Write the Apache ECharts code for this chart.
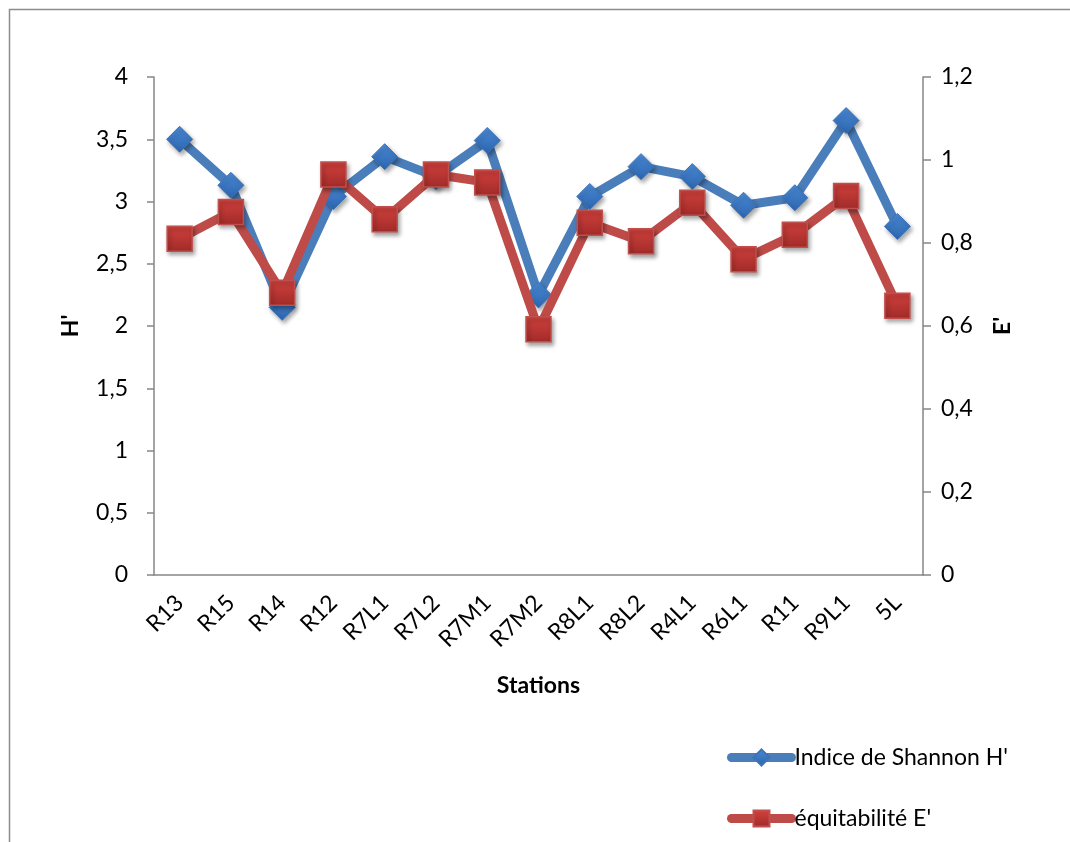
<!DOCTYPE html>
<html>
<head>
<meta charset="utf-8">
<script src="https://cdn.jsdelivr.net/npm/echarts@6/dist/echarts.min.js"></script>
<style>
html,body{margin:0;padding:0;background:#fff;}
#c{width:1070px;height:842px;}
</style>
</head>
<body>
<div id="c"></div>
<script>
var stations = ['R13','R15','R14','R12','R7L1','R7L2','R7M1','R7M2','R8L1','R8L2','R4L1','R6L1','R11','R9L1','5L'];
var shannon = [3.50, 3.13, 2.15, 3.04, 3.36, 3.20, 3.49, 2.25, 3.04, 3.28, 3.20, 2.97, 3.03, 3.65, 2.80];
var equit = [0.81, 0.875, 0.68, 0.965, 0.857, 0.965, 0.946, 0.592, 0.849, 0.804, 0.897, 0.761, 0.82, 0.913, 0.649];
var leftTicks = [0, 0.5, 1, 1.5, 2, 2.5, 3, 3.5, 4];
var rightTicks = [0, 0.2, 0.4, 0.6, 0.8, 1, 1.2];

var FONT = 'Lato, "Open Sans", sans-serif';
var chart = echarts.init(document.getElementById('c'));
function fmt(v){ return String(Math.round(v*10)/10).replace('.', ','); }
var axisGray = '#868686';
var option = {
  backgroundColor: '#fff',
  animation: false,
  textStyle: {fontFamily: FONT},
  graphic: [{
    type: 'rect', left: 7, top: 7, silent: true,
    shape: {width: 1100, height: 900},
    style: {fill: 'none', stroke: '#8c8c8c', lineWidth: 1.5}
  }],
  grid: {left: 154, right: 147, top: 77, bottom: 267},
  legend: {
    orient: 'vertical', left: 727, top: 746, padding: 0,
    itemWidth: 60, itemHeight: 20, itemGap: 38,
    lineStyle: {width: 9, cap: 'round'},
    textStyle: {fontFamily: FONT, fontSize: 23, color: '#000', padding: [0,0,0,-2]},
    data: ["Indice de Shannon H'", "équitabilité E'"]
  },
  xAxis: {
    type: 'category', data: stations, boundaryGap: true,
    name: 'Stations', nameLocation: 'middle', nameGap: 99,
    nameTextStyle: {fontFamily: FONT, fontSize: 23, fontWeight: 'bold', color: '#000'},
    axisLine: {lineStyle: {color: axisGray, width: 1.5}},
    axisTick: {show: false},
    axisLabel: {rotate: 45, fontSize: 23, color: '#000', margin: 24, fontFamily: FONT}
  },
  yAxis: [{
    type: 'value', min: 0, max: 4, interval: 0.5, position: 'left',
    name: "H'", nameLocation: 'middle', nameGap: 72, nameRotate: 90,
    nameTextStyle: {fontFamily: FONT, fontSize: 23, fontWeight: 'bold', color: '#000'},
    axisLine: {show: true, lineStyle: {color: axisGray, width: 1.5}},
    axisTick: {show: true, length: 7, lineStyle: {color: axisGray, width: 1.5}},
    splitLine: {show: false},
    axisLabel: {fontSize: 23, color: '#000', margin: 26, fontFamily: FONT,
      formatter: function(v){ return leftTicks.indexOf(v) >= 0 ? fmt(v) : ''; }}
  }, {
    type: 'value', min: 0, max: 1.2, interval: 0.2, position: 'right',
    name: "E'", nameLocation: 'middle', nameGap: 68, nameRotate: 90,
    nameTextStyle: {fontFamily: FONT, fontSize: 23, fontWeight: 'bold', color: '#000'},
    axisLine: {show: true, lineStyle: {color: axisGray, width: 1.5}},
    axisTick: {show: true, length: 8, lineStyle: {color: axisGray, width: 1.5}},
    splitLine: {show: false},
    axisLabel: {fontSize: 23, color: '#000', margin: 18, fontFamily: FONT,
      formatter: function(v){
        var r = Math.round(v*10)/10;
        for (var i=0;i<rightTicks.length;i++){ if (Math.abs(rightTicks[i]-r)<1e-6) return fmt(r); }
        return '';
      }}
  }],
  series: [{
    name: "Indice de Shannon H'", type: 'line', yAxisIndex: 0, data: shannon,
    symbol: 'diamond', symbolSize: 26,
    lineStyle: {color: '#4a7ebb', width: 9},
    itemStyle: {
      color: new echarts.graphic.LinearGradient(0,0,0,1,[{offset:0,color:'#4a8ad6'},{offset:1,color:'#2c65ae'}]),
      borderColor: '#3d73b8', borderWidth: 1,
      shadowBlur: 4, shadowOffsetX: 2, shadowOffsetY: 3, shadowColor: 'rgba(0,0,0,0.35)'
    },
    z: 2
  }, {
    name: "équitabilité E'", type: 'line', yAxisIndex: 1, data: equit,
    symbol: 'rect', symbolSize: 25,
    lineStyle: {color: '#be4b48', width: 9},
    itemStyle: {
      color: new echarts.graphic.LinearGradient(0,0,0,1,[{offset:0,color:'#d2413d'},{offset:1,color:'#a02b29'}]),
      borderColor: '#c0504d', borderWidth: 1.5,
      shadowBlur: 4, shadowOffsetX: 2, shadowOffsetY: 3, shadowColor: 'rgba(0,0,0,0.35)'
    },
    z: 3
  }]
};
chart.setOption(option);
</script>
</body>
</html>
